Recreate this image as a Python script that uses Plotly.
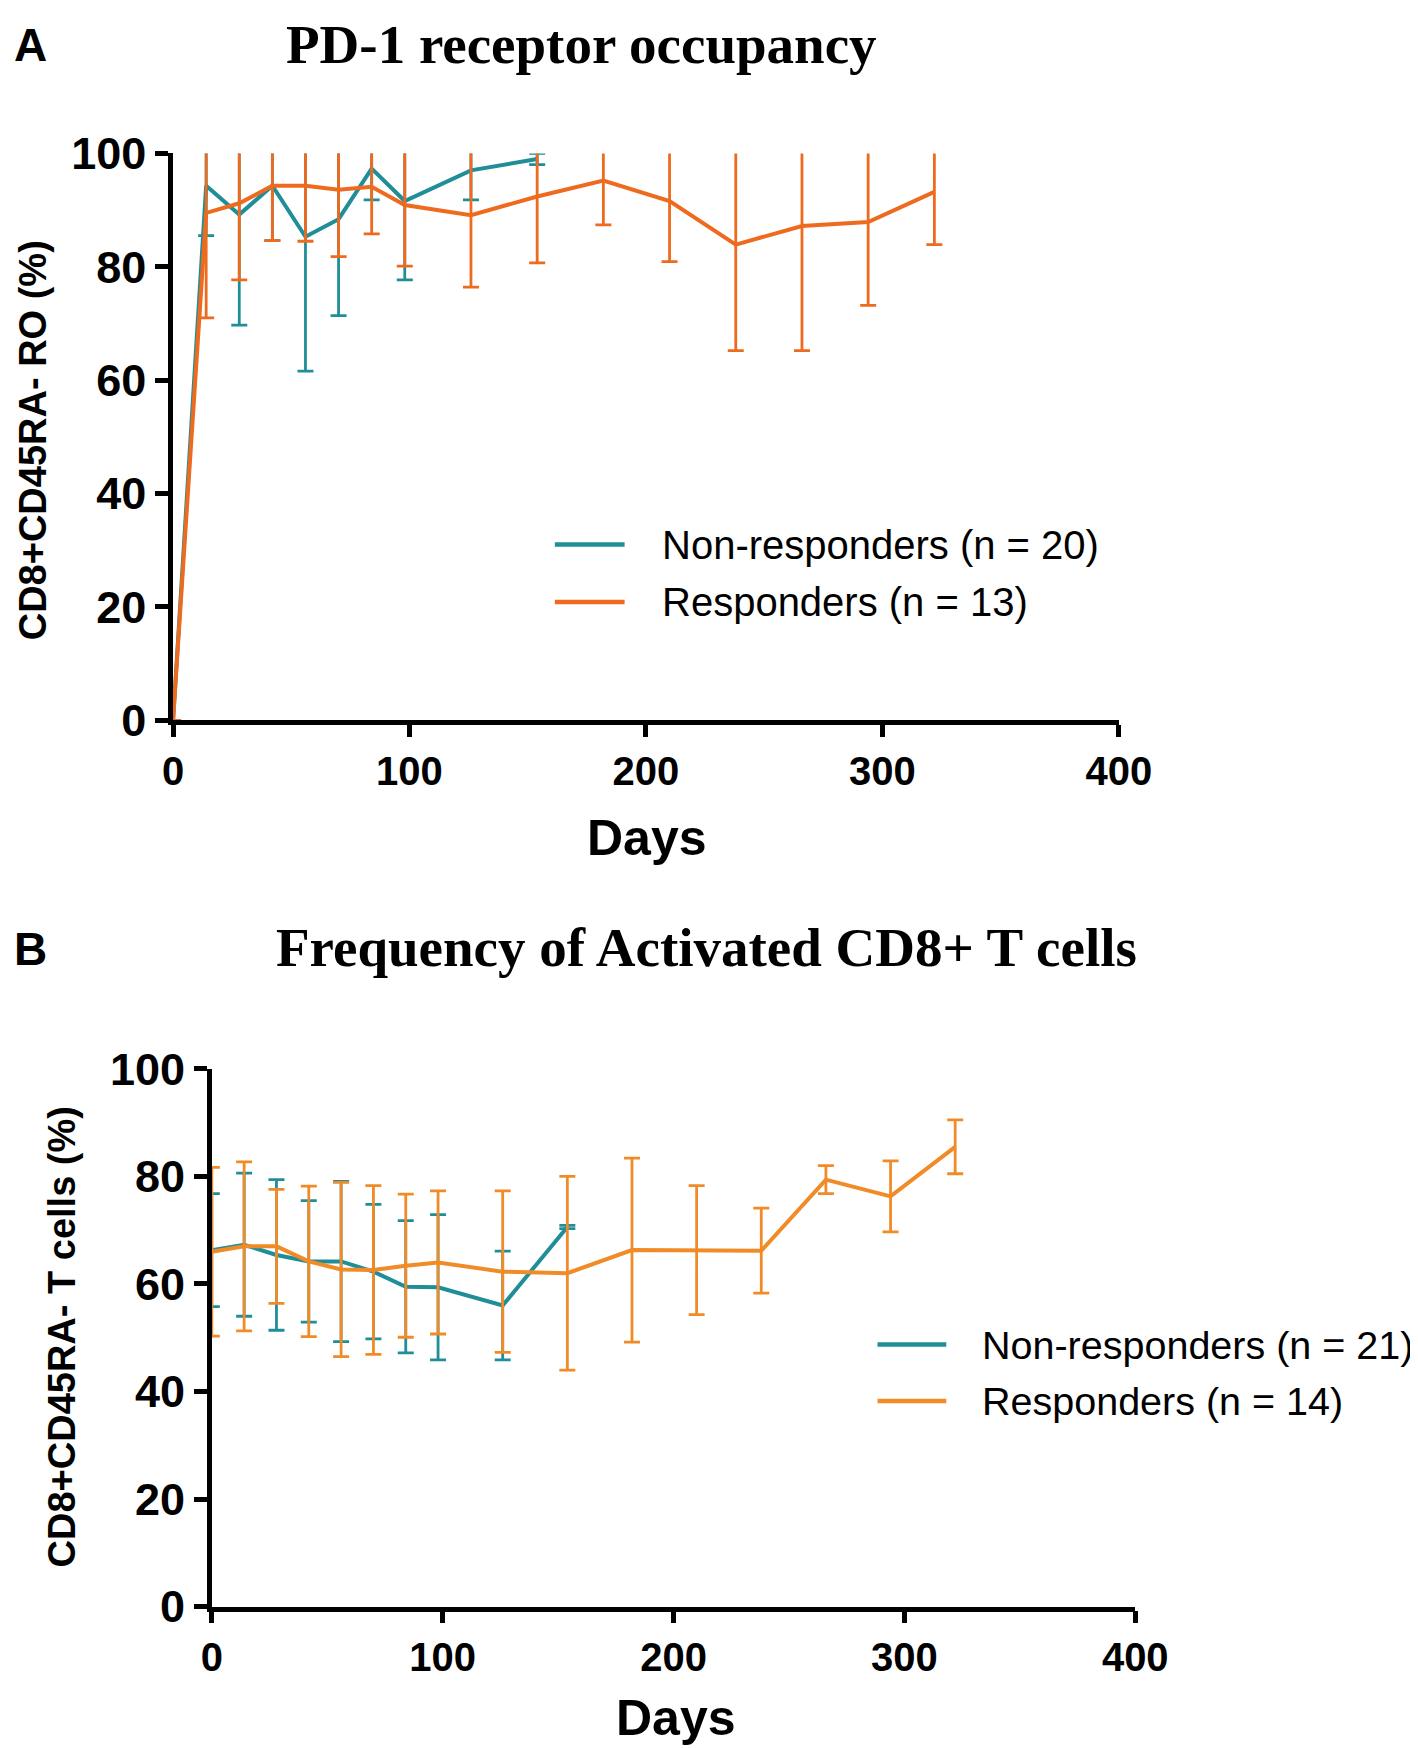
import plotly.graph_objects as go

W, H = 1418, 1748

# ---------------- Data ----------------
# Panel A: PD-1 receptor occupancy (mean, SD)
days_a_nonresp = [0, 14, 28, 42, 56, 70, 84, 98, 126, 154]
ro_nonresp = [0, 94.3, 89.2, 94.3, 85.3, 88.4, 97.3, 91.6, 97.0, 99.0]
ro_nonresp_sd = [0, 8.8, 19.5, 9.7, 23.7, 17.0, 5.5, 13.9, 5.2, 1.0]

days_a_resp = [0, 14, 28, 42, 56, 70, 84, 98, 126, 154, 182, 210, 238, 266, 294, 322]
ro_resp = [0, 89.5, 91.2, 94.3, 94.3, 93.6, 94.1, 90.9, 89.1, 92.4, 95.2, 91.6, 83.9, 87.2, 87.9, 93.2]
ro_resp_sd = [0, 18.5, 13.5, 9.7, 9.8, 11.8, 8.3, 10.8, 12.7, 11.7, 7.8, 10.7, 18.7, 22.0, 14.7, 9.3]

# Panel B: Frequency of activated CD8+ T cells (mean, SD)
days_b_nonresp = [0, 14, 28, 42, 56, 70, 84, 98, 126, 154]
act_nonresp = [66.3, 67.3, 65.4, 64.2, 64.2, 62.3, 59.5, 59.4, 56.0, 70.6]
act_nonresp_sd = [10.5, 13.3, 14.0, 11.3, 14.9, 12.5, 12.3, 13.5, 10.1, 0.3]

days_b_resp = [0, 14, 28, 42, 56, 70, 84, 98, 126, 154, 182, 210, 238, 266, 294, 322]
act_resp = [66.0, 67.0, 67.0, 64.2, 62.7, 62.6, 63.4, 64.0, 62.3, 62.0, 66.3, 66.3, 66.2, 79.4, 76.3, 85.5]
act_resp_sd = [15.7, 15.7, 10.6, 14.0, 16.2, 15.7, 13.3, 13.3, 15.0, 18.0, 17.1, 12.0, 7.9, 2.6, 6.6, 5.0]

x_ticks = [0, 100, 200, 300, 400]
y_ticks = [0, 20, 40, 60, 80, 100]

labels_a = ["Non-responders (n = 20)", "Responders (n = 13)"]
labels_b = ["Non-responders (n = 21)", "Responders (n = 14)"]

TEAL = "#1F8E99"
ORANGE_A = "#EE6A1E"
ORANGE_B = "#F18B27"

SANS = "Liberation Sans, Arial, sans-serif"
SERIF = "Liberation Serif, Times New Roman, serif"


def px(x):
    return x / W


def py(y):
    return 1 - y / H


fig = go.Figure()


def add_series(x, y, sd, color, xa, ya, name):
    fig.add_trace(go.Scatter(
        x=x, y=y, mode="lines", name=name, showlegend=False,
        line=dict(color=color, width=4),
        error_y=dict(type="data", array=sd, visible=True, color=color,
                     thickness=2.8, width=8),
        xaxis=xa, yaxis=ya,
    ))


add_series(days_a_nonresp, ro_nonresp, ro_nonresp_sd, TEAL, "x", "y", labels_a[0])
add_series(days_a_resp, ro_resp, ro_resp_sd, ORANGE_A, "x", "y", labels_a[1])
add_series(days_b_nonresp, act_nonresp, act_nonresp_sd, TEAL, "x2", "y2", labels_b[0])
add_series(days_b_resp, act_resp, act_resp_sd, ORANGE_B, "x2", "y2", labels_b[1])

axis_x = dict(
    showgrid=False, zeroline=False, showline=True, linecolor="black", linewidth=4.5,
    ticks="outside", ticklen=12, tickwidth=4.5, tickcolor="black",
)
axis_y = dict(
    showgrid=False, zeroline=False, showline=True, linecolor="black", linewidth=4.5,
    ticks="outside", ticklen=13, tickwidth=4.5, tickcolor="black",
)

XT = dict(family=SANS, size=40, color="black", weight="bold")
YT = dict(family=SANS, size=45, color="black", weight="bold")

fig.update_layout(
    width=W, height=H,
    margin=dict(l=0, r=0, t=0, b=0),
    paper_bgcolor="white", plot_bgcolor="white",
    xaxis=dict(domain=[px(159), px(1135)], range=[0, 400], anchor="y",
               tickvals=x_ticks, ticktext=[str(v) for v in x_ticks],
               tickfont=XT, **axis_x),
    yaxis=dict(domain=[py(708), py(124)], range=[0, 100], anchor="x",
               tickvals=y_ticks, ticktext=[str(v) for v in y_ticks],
               tickfont=YT, **axis_y),
    xaxis2=dict(domain=[px(199), px(1152)], range=[0, 400], anchor="y2",
                tickvals=x_ticks, ticktext=[str(v) for v in x_ticks],
                tickfont=XT, **axis_x),
    yaxis2=dict(domain=[py(1621), py(1067)], range=[0, 100], anchor="x2",
                tickvals=y_ticks, ticktext=[str(v) for v in y_ticks],
                tickfont=YT, **axis_y),
)

ann = []


def text(x, y, s, size, family=SANS, bold=True, angle=0, xanchor="center"):
    ann.append(dict(
        x=px(x), y=py(y), xref="paper", yref="paper", text=s, showarrow=False,
        xanchor=xanchor, yanchor="middle", textangle=angle,
        font=dict(family=family, size=size, color="black",
                  weight="bold" if bold else "normal"),
    ))


# Panel letters and titles
text(12, 12, "A", 46)
text(581, 12, "PD-1 receptor occupancy", 55, family=SERIF)
text(12, 944, "B", 46)
text(709, 942, "Frequency of Activated CD8+ T cells", 55, family=SERIF)

# Axis titles
text(14, 420, "CD8+CD45RA- RO (%)", 38, angle=-90)
text(648, 829, "Days", 50)
text(44, 1343, "CD8+CD45RA- T cells (%)", 38, angle=-90)
text(678, 1736, "Days", 50)

# Legends (line samples + labels)
shapes = []


def legend_row(x0, x1, y, color, label, tx, size):
    shapes.append(dict(type="line", xref="paper", yref="paper",
                       x0=px(x0), x1=px(x1), y0=py(y), y1=py(y),
                       line=dict(color=color, width=4.5)))
    text(tx, y, label, size, bold=False, xanchor="left")


legend_row(553, 625, 527, TEAL, labels_a[0], 662, 40)
legend_row(553, 625, 586, ORANGE_A, labels_a[1], 662, 40)
legend_row(886, 957, 1351, TEAL, labels_b[0], 992, 39.5)
legend_row(886, 957, 1409, ORANGE_B, labels_b[1], 992, 39.5)

fig.update_layout(annotations=ann, shapes=shapes)

fig.write_html("out.html")
